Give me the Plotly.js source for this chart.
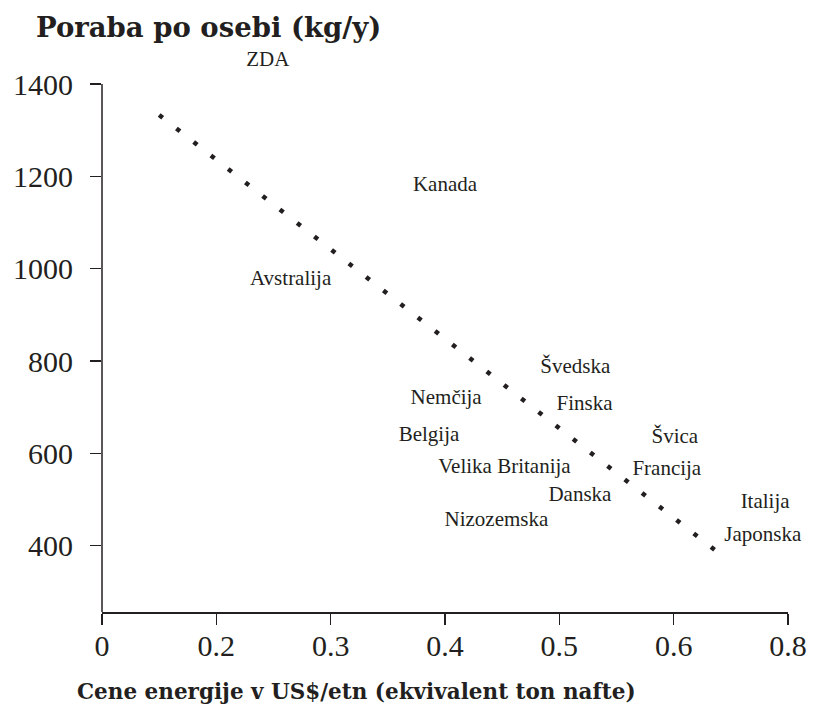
<!DOCTYPE html>
<html>
<head>
<meta charset="utf-8">
<script src="https://cdn.plot.ly/plotly-3.0.1.min.js"></script>
<style>
  html, body { margin: 0; padding: 0; background: #ffffff; }
  #chart { width: 815px; height: 716px; }
</style>
</head>
<body>
<div id="chart"></div>
<script>
// Country labels (x: energy price, y: consumption per person)
const countries = ["ZDA", "Kanada", "Avstralija", "Švedska", "Nemčija", "Finska", "Belgija", "Švica",
  "Velika Britanija", "Francija", "Danska", "Italija", "Nizozemska", "Japonska"];
const priceX = [0.245, 0.400, 0.265, 0.514, 0.401, 0.522, 0.386, 0.601,
  0.452, 0.594, 0.518, 0.680, 0.445, 0.678];
const consumptionY = [1450, 1179, 976, 785, 718, 705, 638, 634,
  569, 565, 508, 493, 454, 422];

// Trend line end points
const trendX = [0.150, 0.636];
const trendY = [1333, 391];

// Axis ticks
const xTickVals = [0.1, 0.2, 0.3, 0.4, 0.5, 0.6, 0.7];
const xTickText = ["0", "0.2", "0.3", "0.4", "0.5", "0.6", "0.8"];
const yTickVals = [400, 600, 800, 1000, 1200, 1400];
const yRange = [256.5, 1465];

const ink = "#231f20";
const serif = "Liberation Serif, Times New Roman, serif";
const boldSerif = "DejaVu Serif, serif";

const traces = [
  {
    type: "scatter",
    mode: "lines",
    x: trendX,
    y: trendY,
    line: { color: ink, width: 4.5, dash: "4.5px,17.4px" },
    hoverinfo: "skip",
    showlegend: false
  },
  {
    type: "scatter",
    mode: "text",
    x: priceX,
    y: consumptionY,
    text: countries,
    textposition: "middle center",
    textfont: { family: serif, size: 21, color: ink },
    cliponaxis: false,
    showlegend: false
  }
];

const layout = {
  width: 815,
  height: 716,
  paper_bgcolor: "#ffffff",
  plot_bgcolor: "#ffffff",
  margin: { l: 102, r: 27, t: 54, b: 104 },
  showlegend: false,
  title: {
    text: "<b>Poraba po osebi (kg/y)</b>",
    font: { family: boldSerif, size: 27.5, color: ink },
    xref: "container", yref: "container",
    x: 36 / 815, xanchor: "left",
    y: 1 - 27 / 716, yanchor: "middle"
  },
  xaxis: {
    range: [0.1, 0.7],
    tickmode: "array",
    tickvals: xTickVals,
    ticktext: xTickText,
    showgrid: false,
    zeroline: false,
    showline: true,
    linecolor: ink,
    linewidth: 1.5,
    ticks: "outside",
    ticklen: 11,
    tickwidth: 1.5,
    tickcolor: ink,
    tickfont: { family: serif, size: 30, color: ink },
    ticklabelstandoff: -5,
    fixedrange: true
  },
  yaxis: {
    range: yRange,
    tickmode: "array",
    tickvals: yTickVals,
    showgrid: false,
    zeroline: false,
    showline: false,
    ticks: "outside",
    ticklen: 11,
    tickwidth: 1.5,
    tickcolor: ink,
    tickfont: { family: serif, size: 30, color: ink },
    ticklabelstandoff: 11,
    fixedrange: true
  },
  shapes: [
    {
      type: "line",
      xref: "paper", yref: "y",
      x0: 0, x1: 0,
      y0: yRange[0], y1: Math.max(...yTickVals),
      line: { color: ink, width: 1.5 }
    }
  ],
  annotations: [
    {
      text: "<b>Cene energije v US$/etn (ekvivalent ton nafte)</b>",
      xref: "paper", yref: "paper",
      x: (356.5 - 102) / 686, xanchor: "center",
      y: -(691 - 612) / 558, yanchor: "middle",
      showarrow: false,
      font: { family: boldSerif, size: 21.5, color: ink }
    }
  ]
};

Plotly.newPlot("chart", traces, layout, { displayModeBar: false, staticPlot: true });
</script>
</body>
</html>
